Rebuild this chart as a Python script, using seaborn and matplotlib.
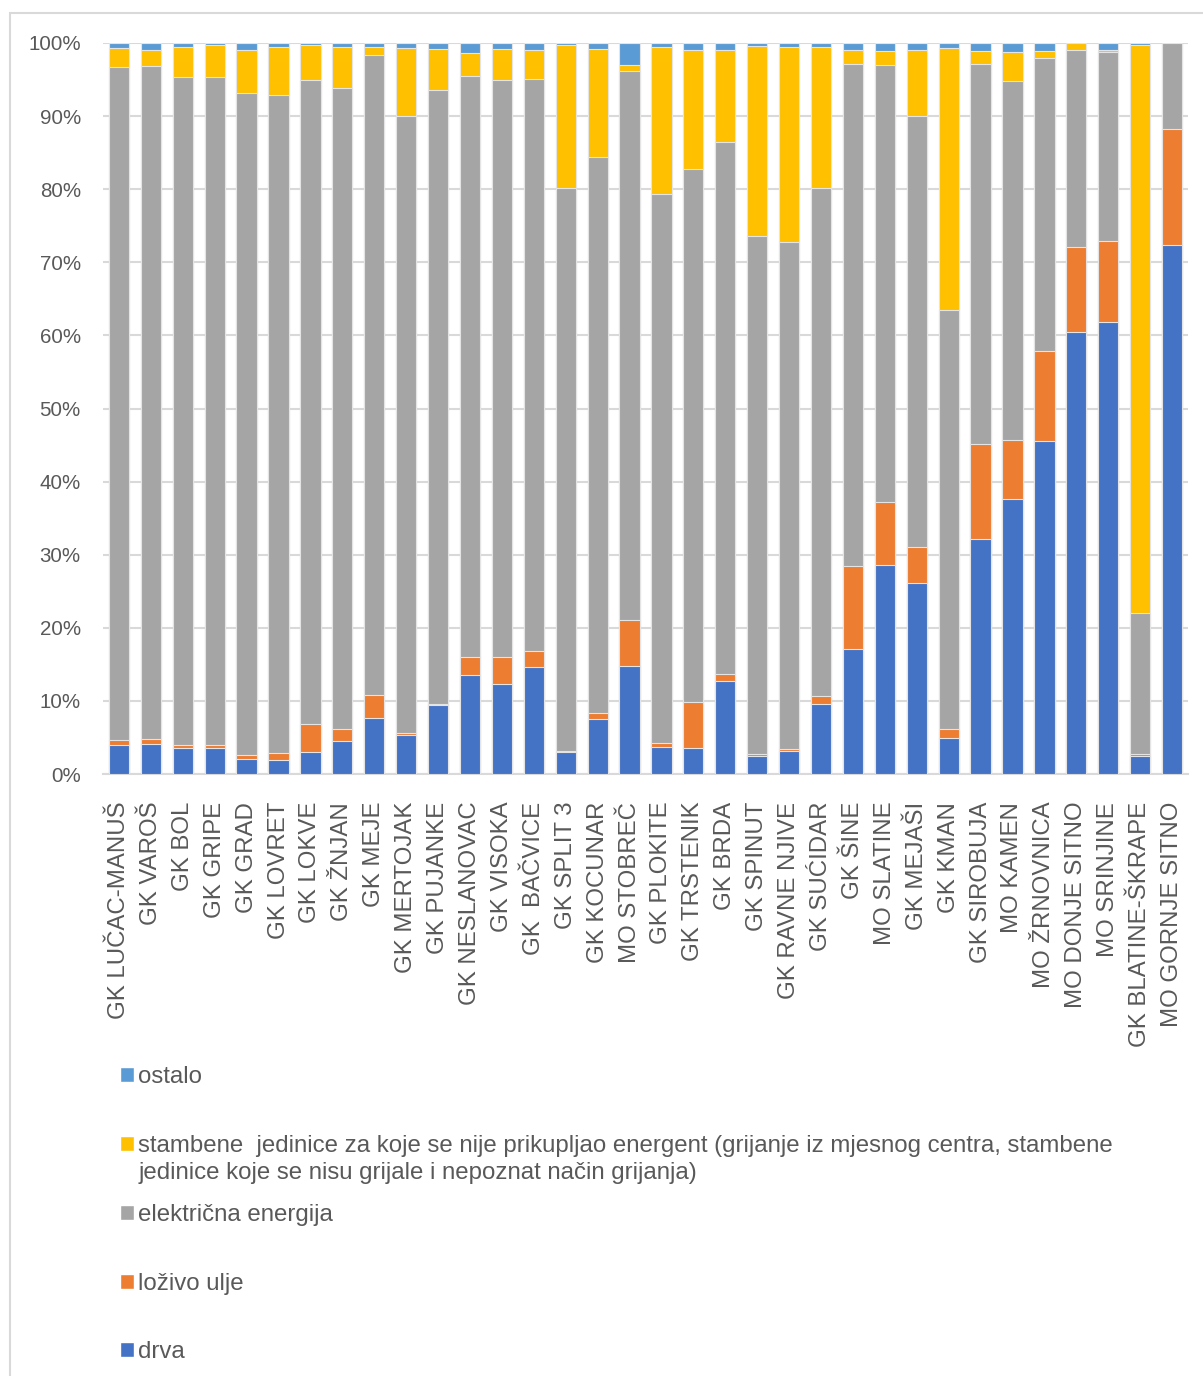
import matplotlib
matplotlib.use("Agg")
import matplotlib.pyplot as plt
from matplotlib.patches import Patch, Rectangle
from matplotlib.ticker import PercentFormatter
import numpy as np
import pandas as pd
import seaborn as sns

areas = ["GK LUČAC-MANUŠ", "GK VAROŠ", "GK BOL", "GK GRIPE", "GK GRAD", "GK LOVRET",
         "GK LOKVE", "GK ŽNJAN", "GK MEJE", "GK MERTOJAK", "GK PUJANKE", "GK NESLANOVAC",
         "GK VISOKA", "GK  BAČVICE", "GK SPLIT 3", "GK KOCUNAR", "MO STOBREČ", "GK PLOKITE",
         "GK TRSTENIK", "GK BRDA", "GK SPINUT", "GK RAVNE NJIVE", "GK SUĆIDAR", "GK ŠINE",
         "MO SLATINE", "GK MEJAŠI", "GK KMAN", "GK SIROBUJA", "MO KAMEN", "MO ŽRNOVNICA",
         "MO DONJE SITNO", "MO SRINJINE", "GK BLATINE-ŠKRAPE", "MO GORNJE SITNO"]

drva = [4.0, 4.1, 3.5, 3.6, 2.0, 1.9, 3.0, 4.55, 7.6, 5.4, 9.4, 13.5, 12.35, 14.7, 3.0, 7.5,
        14.8, 3.7, 3.6, 12.75, 2.5, 3.2, 9.6, 17.05, 28.6, 26.1, 4.95, 32.2, 37.65, 45.6,
        60.5, 61.9, 2.5, 72.3]
lozivo_ulje = [0.6, 0.7, 0.4, 0.3, 0.6, 1.0, 3.9, 1.65, 3.2, 0.25, 0.2, 2.5, 3.65, 2.1, 0.2,
               0.9, 6.2, 0.5, 6.3, 0.95, 0.3, 0.2, 1.1, 11.35, 8.6, 4.9, 1.15, 13.0, 8.05,
               12.2, 11.6, 11.0, 0.3, 15.95]
elektricna = [92.1, 92.1, 91.5, 91.4, 90.5, 90.0, 88.0, 87.7, 87.6, 84.35, 84.0, 79.5, 79.0,
              78.3, 77.0, 76.0, 75.2, 75.1, 72.8, 72.8, 70.8, 69.35, 69.4, 68.7, 59.8, 59.0,
              57.4, 51.9, 49.15, 40.1, 27.0, 25.9, 19.25, 11.75]
stambene = [2.6, 2.1, 4.05, 4.4, 6.0, 6.55, 4.8, 5.5, 1.05, 9.3, 5.6, 3.2, 4.2, 3.9, 19.5,
            14.8, 0.75, 20.15, 16.4, 12.5, 26.0, 26.65, 19.35, 2.0, 1.9, 9.0, 35.85, 1.8,
            3.95, 1.0, 0.9, 0.3, 77.65, 0.0]
ostalo = [0.7, 1.0, 0.55, 0.3, 0.9, 0.55, 0.3, 0.6, 0.55, 0.7, 0.8, 1.3, 0.8, 1.0, 0.3, 0.8,
          3.05, 0.55, 0.9, 1.0, 0.4, 0.6, 0.55, 0.9, 1.1, 1.0, 0.65, 1.1, 1.2, 1.1, 0.0, 0.9,
          0.3, 0.0]

series = ["drva", "loživo ulje", "električna energija", "stambene", "ostalo"]
colors = ["#4472C4", "#ED7D31", "#A5A5A5", "#FFC000", "#5B9BD5"]

df = pd.DataFrame({"drva": drva, "loživo ulje": lozivo_ulje, "električna energija": elektricna,
                   "stambene": stambene, "ostalo": ostalo}, index=areas)
df = df.div(df.sum(axis=1), axis=0) * 100
cum = df[series].cumsum(axis=1)

sns.set_style("white")
plt.rcParams["font.family"] = ["Liberation Sans", "DejaVu Sans"]

W, H = 1203, 1376
fig = plt.figure(figsize=(W / 100, H / 100), dpi=100)
ax = fig.add_axes([103 / W, 1 - 774 / H, 1085 / W, 731 / H])

# stacked bars: draw cumulative totals from the top layer down
for s, c in zip(series[::-1], colors[::-1]):
    sns.barplot(x=areas, y=cum[s].values, color=c, saturation=1, width=0.635,
                edgecolor="#E4E4E4", linewidth=0.8, ax=ax, zorder=3)

ax.set_ylim(0, 100)
ax.set_xlim(-0.5, len(areas) - 0.5)
ax.set_yticks(np.arange(0, 101, 10))
ax.yaxis.set_major_formatter(PercentFormatter(decimals=0))
ax.grid(axis="y", color="#D9D9D9", linewidth=1.5, zorder=0)
ax.set_axisbelow(True)
for sp in ["top", "right", "left"]:
    ax.spines[sp].set_visible(False)
ax.spines["bottom"].set_color("#D9D9D9")
ax.spines["bottom"].set_linewidth(1.5)
ax.tick_params(axis="y", length=0, pad=16, labelsize=14.8, labelcolor="#595959")
ax.tick_params(axis="x", length=0, pad=20, labelsize=17.3, labelcolor="#595959")
plt.setp(ax.get_xticklabels(), rotation=90, ha="center", va="top")
ax.set_xlabel("")
ax.set_ylabel("")

# legend
labels = {
    "ostalo": "ostalo",
    "stambene": "stambene  jedinice za koje se nije prikupljao energent (grijanje iz mjesnog centra, stambene",
    "električna energija": "električna energija",
    "loživo ulje": "loživo ulje",
    "drva": "drva",
}
handles = [Patch(facecolor=c, label=labels[s]) for s, c in zip(series[::-1], colors[::-1])]
fig.legend(handles=handles, loc="upper left", bbox_to_anchor=(120 / W, 1 - 1066 / H),
           frameon=False, fontsize=17.3, labelcolor="#595959", handlelength=0.58,
           handleheight=0.58, handletextpad=0.15, labelspacing=1.95, borderpad=0,
           borderaxespad=0)
fig.text(139 / W, 1 - 1173 / H, "jedinice koje se nisu grijale i nepoznat način grijanja)",
         fontsize=17.3, color="#595959", va="center", ha="left")

# chart area border
fig.patches.append(Rectangle((10 / W, -0.01), 1.1, 1 - 13 / H + 0.01, transform=fig.transFigure,
                             fill=False, edgecolor="#D9D9D9", linewidth=1.5))

fig.savefig("out.png", dpi=100, facecolor="white")
